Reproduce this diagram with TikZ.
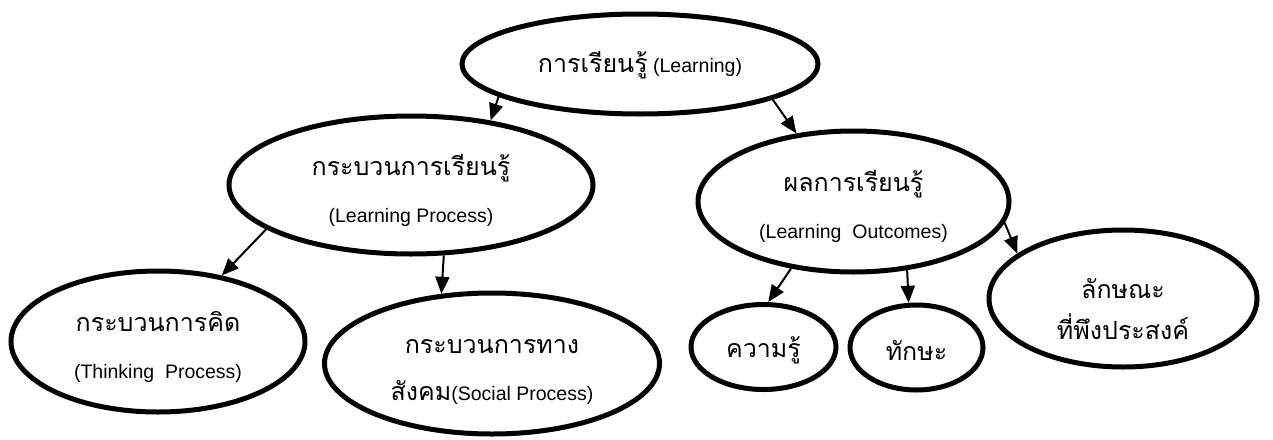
\documentclass[tikz,border=0pt]{standalone}
\usepackage{fontspec}
\setmainfont{Liberation Sans}
\newfontfamily\thaifont[Script=Thai]{Loma}
\usetikzlibrary{shapes,arrows.meta}
\newcommand{\thtxt}[1]{{\thaifont\fontsize{25}{29}\selectfont #1}}
% push a line down inside its ellipse, box size kept
\newcommand{\sink}[2]{\raisebox{-#1}[\height][\depth]{#2}}

\begin{document}
\begin{tikzpicture}[x=1pt, y=-1pt,
  bubble/.style={draw, ellipse, line width=5pt, inner sep=0pt, align=center, font=\fontsize{19.5}{47}\selectfont},
  link/.style={-{Triangle[length=17pt,width=14pt]}, line width=2pt}]
  \useasboundingbox (0,0) rectangle (1273,439);
  \node[bubble, minimum width=356pt, minimum height=100pt] (learn) at (640,64) {\sink{1pt}{\thtxt{การเรียนรู้} (Learning)}};
  \node[bubble, minimum width=364pt, minimum height=138pt] (proc) at (411,185) {\sink{5pt}{\thtxt{กระบวนการเรียนรู้}}\\\sink{5pt}{(Learning Process)}};
  \node[bubble, minimum width=311pt, minimum height=141pt] (outc) at (853.5,201.5) {\sink{5pt}{\thtxt{ผลการเรียนรู้}}\\\sink{5pt}{(Learning\ \ Outcomes)}};
  \node[bubble, minimum width=294pt, minimum height=141pt] (think) at (158,341.5) {\sink{5pt}{\thtxt{กระบวนการคิด}}\\\sink{5pt}{(Thinking\ \ Process)}};
  \node[bubble, minimum width=335pt, minimum height=141pt] (social) at (492,363.5) {\sink{8pt}{\thtxt{กระบวนการทาง}}\\\sink{8pt}{\thtxt{สังคม}(Social Process)}};
  \node[bubble, minimum width=145pt, minimum height=85pt] (know) at (763.5,347) {\sink{3pt}{\thtxt{ความรู้}}};
  \node[bubble, minimum width=133pt, minimum height=85pt] (skill) at (916.5,347.5) {\sink{3pt}{\thtxt{ทักษะ}}};
  \node[bubble, minimum width=268pt, minimum height=137pt, font=\fontsize{19.5}{41}\selectfont] (trait) at (1123,298.5) {\sink{11pt}{\thtxt{ลักษณะ}}\\\sink{11pt}{\thtxt{ที่พึงประสงค์}}};

  \draw[link] (learn.193) -- (proc.39);
  \draw[link] (learn.345) -- (outc.130);
  \draw[link] (proc.197) -- (think.46);
  \draw[link] (proc.295) -- (social.126);
  \draw[link] (outc.227) -- (know.84);
  \draw[link] (outc.308) -- (skill.100);
  \draw[link] (outc.352) -- (trait.157);
\end{tikzpicture}
\end{document}
